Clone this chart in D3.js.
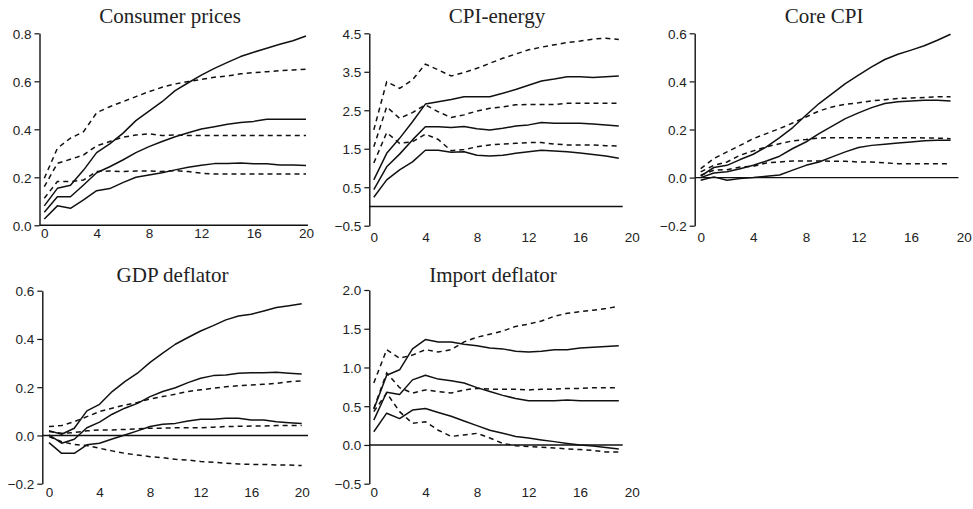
<!DOCTYPE html>
<html>
<head>
<meta charset="utf-8">
<script src="https://cdn.jsdelivr.net/npm/d3@7/dist/d3.min.js"></script>
<style>
  html, body { margin: 0; padding: 0; background: #fff; }
  svg { display: block; }
  .tick text { font-family: "Liberation Sans", Arial, sans-serif; font-size: 13.5px; fill: #222; }
  .title { font-family: "Liberation Serif", "Times New Roman", serif; font-size: 21px; fill: #222; }
</style>
</head>
<body>
<svg id="chart" width="973" height="509"></svg>
<script>
// Impulse responses: median (solid) and error bands (dashed), two models each.
const titles = ["Consumer prices", "CPI-energy", "Core CPI", "GDP deflator", "Import deflator"];
const xTicks = [0, 4, 8, 12, 16, 20];
const yTicksCP = [0.0, 0.2, 0.4, 0.6, 0.8];
const yTicksEnergy = [-0.5, 0.5, 1.5, 2.5, 3.5, 4.5];
const yTicksCore = [-0.2, 0.0, 0.2, 0.4, 0.6];
const yTicksGDP = [-0.2, 0.0, 0.2, 0.4, 0.6];
const yTicksImport = [-0.5, 0.0, 0.5, 1.0, 1.5, 2.0];

// Consumer prices (horizons 0..20)
const cpSolidHigh = [0.081,0.154,0.167,0.23,0.303,0.339,0.383,0.436,0.476,0.515,0.561,0.594,0.626,0.654,0.679,0.703,0.721,0.738,0.754,0.769,0.789];
const cpSolidMid  = [0.054,0.119,0.119,0.168,0.219,0.244,0.272,0.303,0.328,0.349,0.369,0.386,0.401,0.411,0.421,0.428,0.433,0.442,0.442,0.442,0.442];
const cpSolidLow  = [0.026,0.081,0.071,0.106,0.144,0.153,0.178,0.2,0.21,0.219,0.231,0.242,0.25,0.257,0.257,0.26,0.256,0.256,0.251,0.251,0.249];
const cpDashHigh  = [0.196,0.321,0.363,0.39,0.469,0.494,0.515,0.536,0.557,0.575,0.589,0.599,0.608,0.617,0.622,0.631,0.636,0.64,0.644,0.647,0.65];
const cpDashMid   = [0.161,0.258,0.275,0.293,0.331,0.349,0.367,0.376,0.381,0.374,0.376,0.374,0.374,0.374,0.374,0.374,0.374,0.374,0.374,0.374,0.374];
const cpDashLow   = [0.113,0.182,0.182,0.189,0.224,0.226,0.224,0.226,0.226,0.224,0.228,0.224,0.217,0.214,0.214,0.214,0.214,0.214,0.214,0.214,0.214];

// CPI-energy (horizons 0..19)
const enSolidHigh = [0.69,1.38,1.77,2.2,2.66,2.72,2.78,2.85,2.85,2.85,2.94,3.04,3.15,3.26,3.31,3.37,3.37,3.35,3.37,3.39];
const enSolidMid  = [0.44,1.03,1.36,1.73,2.07,2.07,2.05,2.08,2.02,1.99,2.03,2.09,2.12,2.18,2.16,2.16,2.16,2.14,2.12,2.09];
const enSolidLow  = [0.24,0.69,0.95,1.16,1.46,1.46,1.41,1.42,1.33,1.31,1.33,1.38,1.42,1.46,1.44,1.42,1.39,1.35,1.31,1.25];
const enDashHigh  = [1.99,3.24,3.07,3.29,3.7,3.55,3.39,3.48,3.59,3.72,3.85,3.96,4.07,4.14,4.2,4.26,4.3,4.35,4.37,4.34];
const enDashMid   = [1.55,2.59,2.29,2.44,2.64,2.46,2.31,2.38,2.48,2.55,2.59,2.64,2.65,2.65,2.65,2.68,2.68,2.68,2.68,2.68];
const enDashLow   = [1.13,1.92,1.64,1.68,1.88,1.74,1.45,1.48,1.55,1.6,1.62,1.64,1.66,1.66,1.62,1.6,1.6,1.6,1.58,1.57];

// Core CPI (horizons 0..19)
const coSolidHigh = [0.006,0.042,0.051,0.075,0.097,0.128,0.166,0.208,0.259,0.308,0.349,0.391,0.426,0.46,0.491,0.513,0.53,0.548,0.571,0.596];
const coSolidMid  = [0.0,0.019,0.024,0.037,0.051,0.069,0.089,0.121,0.148,0.183,0.214,0.245,0.269,0.291,0.308,0.315,0.319,0.322,0.322,0.319];
const coSolidLow  = [-0.011,0.003,-0.011,-0.004,0.0,0.006,0.011,0.031,0.051,0.065,0.086,0.107,0.125,0.134,0.139,0.144,0.148,0.153,0.155,0.155];
const coDashHigh  = [0.037,0.079,0.107,0.134,0.162,0.183,0.204,0.227,0.252,0.277,0.294,0.305,0.311,0.319,0.324,0.329,0.331,0.333,0.336,0.336];
const coDashMid   = [0.024,0.051,0.065,0.093,0.111,0.128,0.141,0.153,0.158,0.165,0.166,0.166,0.166,0.166,0.166,0.166,0.166,0.165,0.164,0.162];
const coDashLow   = [0.01,0.031,0.033,0.044,0.047,0.061,0.065,0.069,0.069,0.069,0.068,0.068,0.065,0.065,0.061,0.058,0.058,0.058,0.058,0.058];

// GDP deflator (horizons 0..20)
const gdSolidHigh = [0.02,0.005,0.03,0.102,0.129,0.182,0.223,0.258,0.303,0.341,0.378,0.406,0.433,0.455,0.479,0.495,0.502,0.516,0.53,0.538,0.546];
const gdSolidMid  = [0.002,-0.032,-0.016,0.032,0.055,0.088,0.113,0.133,0.161,0.182,0.198,0.219,0.237,0.248,0.251,0.258,0.26,0.26,0.262,0.258,0.255];
const gdSolidLow  = [-0.03,-0.074,-0.074,-0.039,-0.032,-0.015,0.002,0.019,0.037,0.046,0.05,0.06,0.067,0.067,0.071,0.071,0.064,0.064,0.057,0.053,0.05];
const gdDashHigh  = [0.037,0.041,0.057,0.078,0.099,0.113,0.126,0.137,0.151,0.161,0.171,0.182,0.189,0.196,0.202,0.206,0.209,0.212,0.216,0.223,0.226];
const gdDashMid   = [0.016,0.009,0.012,0.019,0.023,0.023,0.025,0.027,0.03,0.03,0.032,0.032,0.032,0.034,0.037,0.038,0.039,0.039,0.041,0.041,0.041];
const gdDashLow   = [-0.005,-0.026,-0.037,-0.042,-0.053,-0.064,-0.074,-0.081,-0.088,-0.092,-0.099,-0.102,-0.108,-0.111,-0.115,-0.118,-0.12,-0.12,-0.122,-0.122,-0.125];

// Import deflator (horizons 0..19)
const imSolidHigh = [0.46,0.9,0.97,1.24,1.36,1.33,1.33,1.3,1.28,1.25,1.24,1.21,1.2,1.21,1.23,1.23,1.25,1.26,1.27,1.28];
const imSolidMid  = [0.32,0.68,0.65,0.84,0.9,0.85,0.83,0.8,0.74,0.69,0.64,0.6,0.57,0.57,0.57,0.58,0.57,0.57,0.57,0.57];
const imSolidLow  = [0.17,0.41,0.34,0.45,0.47,0.42,0.37,0.31,0.25,0.19,0.15,0.11,0.09,0.065,0.043,0.02,0.0,-0.013,-0.034,-0.052];
const imDashHigh  = [0.8,1.23,1.12,1.16,1.23,1.2,1.23,1.33,1.39,1.43,1.47,1.53,1.56,1.6,1.66,1.7,1.72,1.74,1.76,1.79];
const imDashMid   = [0.47,0.93,0.74,0.67,0.71,0.69,0.67,0.71,0.73,0.72,0.72,0.72,0.71,0.72,0.72,0.73,0.73,0.74,0.74,0.74];
const imDashLow   = [0.43,0.67,0.43,0.28,0.3,0.19,0.11,0.13,0.15,0.09,0.02,-0.01,-0.02,-0.03,-0.04,-0.05,-0.06,-0.07,-0.09,-0.09];

const panels = [
  { title: titles[0], yTicks: yTicksCP, fmt: ".1f",
    solid: [cpSolidHigh, cpSolidMid, cpSolidLow], dashed: [cpDashHigh, cpDashMid, cpDashLow],
    axisX: 39.5, x0: 44.3, x1: 306, yTop: 33.3, yBot: 225.3, zeroEnd: 20.15,
    titleX: 170, titleY: 22.5, tickY: 238 },
  { title: titles[1], yTicks: yTicksEnergy, fmt: ".1f",
    solid: [enSolidHigh, enSolidMid, enSolidLow], dashed: [enDashHigh, enDashMid, enDashLow],
    axisX: 369.3, x0: 373.8, x1: 631.7, yTop: 33.3, yBot: 225.7, zeroEnd: 19.3,
    titleX: 497, titleY: 22.5, tickY: 242 },
  { title: titles[2], yTicks: yTicksCore, fmt: ".1f",
    solid: [coSolidHigh, coSolidMid, coSolidLow], dashed: [coDashHigh, coDashMid, coDashLow],
    axisX: 694.7, x0: 700.7, x1: 963.7, yTop: 33.3, yBot: 225.7, zeroEnd: 19.6,
    titleX: 824, titleY: 22.5, tickY: 242 },
  { title: titles[3], yTicks: yTicksGDP, fmt: ".1f",
    solid: [gdSolidHigh, gdSolidMid, gdSolidLow], dashed: [gdDashHigh, gdDashMid, gdDashLow],
    axisX: 42.3, x0: 49, x1: 301.7, yTop: 290.7, yBot: 483.7, zeroEnd: 20.5,
    titleX: 172.5, titleY: 281.5, tickY: 497 },
  { title: titles[4], yTicks: yTicksImport, fmt: ".1f",
    solid: [imSolidHigh, imSolidMid, imSolidLow], dashed: [imDashHigh, imDashMid, imDashLow],
    axisX: 369.3, x0: 373.8, x1: 631.7, yTop: 290, yBot: 483.7, zeroEnd: 19.3,
    titleX: 493, titleY: 281.5, tickY: 497 }
];

const svg = d3.select("#chart");
const ink = "#111";

panels.forEach(p => {
  const g = svg.append("g");
  const x = d3.scaleLinear().domain([0, 20]).range([p.x0, p.x1]);
  const yMin = d3.min(p.yTicks), yMax = d3.max(p.yTicks);
  const y = d3.scaleLinear().domain([yMin, yMax]).range([p.yBot, p.yTop]);

  // title
  g.append("text").attr("class", "title")
    .attr("x", p.titleX).attr("y", p.titleY)
    .attr("text-anchor", "middle").text(p.title);

  // y axis
  const yAxis = d3.axisLeft(y).tickValues(p.yTicks)
    .tickFormat(d => d3.format(p.fmt)(d).replace("-", "\u2212"))
    .tickSize(5).tickSizeOuter(0).tickPadding(3);
  const ya = g.append("g").attr("transform", `translate(${p.axisX},0)`).call(yAxis);
  ya.selectAll("path.domain").attr("stroke", ink).attr("stroke-width", 1.4);
  ya.selectAll(".tick line").attr("stroke", ink).attr("stroke-width", 1.2);
  ya.selectAll(".tick text").attr("dy", "0.36em");

  // x tick labels (no axis line, no tick marks)
  const xAxis = d3.axisBottom(x).tickValues(xTicks).tickSize(0).tickPadding(0);
  const xa = g.append("g").attr("transform", `translate(0,${p.tickY})`).call(xAxis);
  xa.select("path.domain").remove();
  xa.selectAll(".tick text").attr("dy", "0").attr("y", 0);

  // zero line
  g.append("line")
    .attr("x1", p.axisX).attr("x2", x(p.zeroEnd))
    .attr("y1", y(0)).attr("y2", y(0))
    .attr("stroke", ink).attr("stroke-width", 1.4);

  const line = d3.line().x((d, i) => x(i)).y(d => y(d));

  p.dashed.forEach(s => {
    g.append("path").attr("d", line(s))
      .attr("fill", "none").attr("stroke", ink)
      .attr("stroke-width", 1.5).attr("stroke-dasharray", "5,4");
  });
  p.solid.forEach(s => {
    g.append("path").attr("d", line(s))
      .attr("fill", "none").attr("stroke", ink)
      .attr("stroke-width", 1.5).attr("stroke-linejoin", "round");
  });
});
</script>
</body>
</html>
